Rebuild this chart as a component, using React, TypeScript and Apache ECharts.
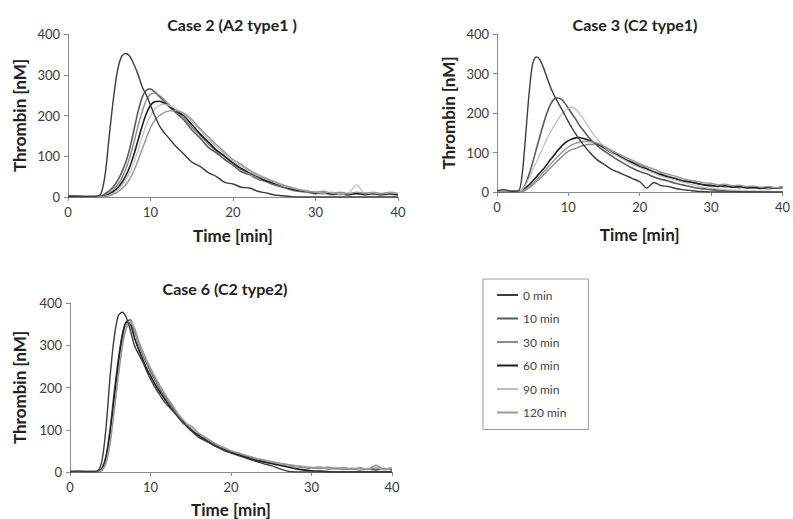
import React, { useEffect, useRef } from "react";
import * as echarts from "echarts";

// time axis (min)
const TIME = [0, 1, 2, 3, 3.5, 4, 4.5, 5, 5.5, 6, 6.5, 7, 7.5, 8, 8.5, 9, 9.5, 10, 10.5, 11, 11.5, 12, 13, 14, 15, 16, 17, 18, 19, 20, 21, 22, 23, 24, 25, 26, 27, 28, 29, 30, 31, 32, 33, 34, 35, 36, 37, 38, 39, 40];

const SERIES_NAMES = ["0 min", "10 min", "30 min", "60 min", "90 min", "120 min"];
const X_TICKS = [0, 10, 20, 30, 40];
const Y_TICKS = [0, 100, 200, 300, 400];
const TITLES = ["Case 2 (A2 type1 )", "Case 3 (C2 type1)", "Case 6 (C2 type2)"];

// Case 2 (A2 type1)
const CASE2_0 = [2, 2, 1, 1, 2, 8, 55, 150, 240, 310, 345, 352, 345, 325, 300, 270, 250, 225, 200, 178, 162, 150, 126, 106, 86, 75, 60, 50, 36, 32, 24, 22, 14, 10, 5, 3, 1, 0, 0, 0, 0, 0, 0, 0, 0, 0, 0, 0, 0, 0];
const CASE2_10 = [2, 2, 1, 1, 1, 2, 8, 15, 25, 40, 60, 85, 120, 165, 210, 245, 262, 265, 258, 248, 238, 228, 208, 190, 165, 145, 122, 108, 92, 78, 62, 55, 44, 38, 30, 24, 18, 14, 12, 8, 10, 6, 8, 5, 10, 6, 8, 5, 7, 5];
const CASE2_30 = [2, 1, 1, 1, 1, 1, 5, 10, 18, 30, 45, 68, 98, 135, 175, 210, 238, 252, 255, 250, 242, 232, 212, 195, 172, 152, 130, 112, 98, 80, 68, 56, 46, 40, 32, 26, 20, 15, 12, 10, 8, 10, 6, 9, 7, 10, 6, 9, 7, 8];
const CASE2_60 = [1, 1, 1, 1, 1, 1, 3, 7, 13, 22, 35, 52, 75, 105, 140, 175, 205, 225, 234, 235, 232, 226, 212, 200, 178, 155, 135, 115, 100, 84, 70, 60, 50, 40, 34, 28, 20, 16, 14, 10, 12, 8, 10, 7, 9, 6, 9, 7, 8, 6];
const CASE2_90 = [1, 1, 1, 0, 0, 0, 2, 5, 10, 17, 28, 42, 60, 85, 115, 148, 178, 200, 215, 224, 228, 226, 218, 205, 185, 165, 142, 124, 105, 88, 76, 62, 52, 44, 36, 28, 22, 18, 14, 12, 10, 12, 8, 10, 30, 8, 10, 8, 10, 8];
const CASE2_120 = [1, 1, 0, 0, 0, 0, 1, 3, 7, 12, 20, 30, 45, 65, 90, 118, 145, 170, 188, 198, 205, 210, 212, 206, 190, 168, 148, 128, 110, 92, 80, 66, 55, 46, 38, 30, 24, 18, 15, 12, 14, 9, 12, 8, 12, 9, 12, 8, 12, 9];

// Case 3 (C2 type1)
const CASE3_0 = [3, 6, 2, 3, 40, 140, 250, 325, 342, 335, 315, 290, 265, 245, 228, 212, 195, 178, 162, 148, 135, 122, 100, 82, 70, 58, 50, 42, 34, 26, 10, 24, 16, 14, 9, 6, 4, 2, 1, 0, 0, 0, 0, 0, 0, 0, 0, 0, 0, 0];
const CASE3_10 = [2, 2, 1, 1, 4, 20, 45, 75, 108, 140, 172, 200, 222, 235, 238, 235, 225, 212, 198, 185, 170, 158, 135, 118, 104, 92, 80, 70, 60, 52, 46, 38, 32, 28, 22, 18, 14, 10, 8, 6, 4, 3, 2, 1, 1, 0, 0, 0, 0, 0];
const CASE3_30 = [1, 1, 1, 1, 1, 5, 11, 18, 26, 34, 43, 52, 61, 70, 79, 88, 96, 103, 108, 110, 114, 117, 121, 120, 114, 104, 94, 84, 76, 68, 60, 52, 46, 40, 34, 29, 25, 21, 18, 14, 16, 12, 14, 10, 12, 9, 11, 8, 10, 9];
const CASE3_60 = [1, 1, 1, 1, 3, 10, 18, 28, 38, 48, 58, 70, 82, 93, 105, 115, 124, 130, 134, 137, 138, 136, 130, 122, 112, 100, 92, 82, 74, 64, 58, 50, 44, 38, 34, 28, 26, 22, 18, 17, 14, 16, 12, 14, 10, 12, 9, 12, 10, 12];
const CASE3_90 = [2, 2, 1, 1, 5, 18, 35, 55, 75, 95, 115, 135, 152, 168, 182, 195, 205, 212, 215, 210, 200, 188, 160, 135, 115, 100, 90, 80, 70, 62, 55, 48, 40, 35, 30, 25, 20, 16, 12, 10, 8, 6, 5, 4, 3, 3, 2, 2, 1, 1];
const CASE3_120 = [1, 1, 1, 1, 2, 7, 14, 22, 31, 40, 50, 60, 70, 80, 90, 99, 107, 114, 119, 123, 126, 128, 128, 124, 116, 106, 97, 88, 80, 72, 64, 58, 50, 45, 40, 34, 30, 27, 23, 22, 18, 20, 16, 17, 14, 15, 12, 14, 11, 14];

// Case 6 (C2 type2)
const CASE6_0 = [1, 2, 1, 1, 3, 30, 110, 230, 320, 370, 378, 365, 335, 300, 280, 262, 240, 220, 202, 187, 172, 160, 140, 118, 98, 82, 72, 62, 52, 45, 38, 32, 26, 20, 15, 8, 2, 0, 0, 0, 0, 0, 0, 0, 0, 0, 0, 0, 0, 0];
const CASE6_10 = [1, 1, 1, 1, 1, 10, 40, 105, 190, 265, 325, 355, 360, 335, 305, 280, 258, 238, 220, 202, 187, 173, 146, 123, 103, 89, 77, 65, 57, 49, 43, 37, 31, 27, 23, 19, 16, 13, 11, 9, 12, 7, 9, 6, 8, 5, 7, 5, 8, 5];
const CASE6_30 = [1, 1, 1, 1, 1, 6, 30, 85, 165, 245, 310, 348, 355, 338, 305, 282, 262, 242, 224, 206, 190, 175, 148, 125, 105, 90, 78, 66, 58, 50, 44, 38, 32, 28, 24, 20, 16, 14, 12, 10, 8, 11, 7, 10, 6, 9, 6, 10, 5, 8];
const CASE6_60 = [1, 1, 1, 1, 1, 8, 35, 95, 178, 258, 322, 355, 350, 318, 292, 268, 246, 228, 210, 194, 180, 166, 140, 118, 100, 86, 74, 62, 54, 46, 40, 34, 28, 24, 20, 16, 12, 8, 5, 3, 2, 1, 0, 0, 0, 0, 0, 0, 0, 0];
const CASE6_90 = [1, 1, 1, 1, 1, 5, 25, 75, 150, 230, 300, 345, 358, 342, 310, 285, 264, 245, 226, 208, 192, 178, 150, 126, 106, 91, 79, 68, 59, 51, 45, 39, 33, 28, 24, 20, 17, 14, 12, 10, 12, 8, 11, 7, 10, 6, 9, 12, 6, 9];
const CASE6_120 = [1, 1, 1, 1, 1, 4, 22, 70, 145, 225, 295, 340, 352, 340, 312, 288, 266, 246, 228, 210, 194, 178, 150, 115, 110, 92, 80, 68, 58, 50, 44, 38, 33, 29, 25, 21, 18, 15, 13, 11, 9, 12, 8, 10, 7, 10, 6, 16, 7, 10];

const PANELS = [
  [CASE2_0, CASE2_10, CASE2_30, CASE2_60, CASE2_90, CASE2_120],
  [CASE3_0, CASE3_10, CASE3_30, CASE3_60, CASE3_90, CASE3_120],
  [CASE6_0, CASE6_10, CASE6_30, CASE6_60, CASE6_90, CASE6_120],
];

// styles
const LINE_COLORS = ["#3c3c3c", "#5a5a5a", "#8a8a8a", "#1e1e1e", "#bdbdbd", "#969696"];
const LINE_WIDTHS = [1.4, 1.6, 1.4, 1.6, 1.2, 1.4];
const FONT = "Lato";

const GRIDS = [
  { left: 68, top: 34, width: 330, height: 163, yGap: 40, xGap: 30, title: [232, 24] },
  { left: 497, top: 34, width: 290, height: 158, yGap: 40, xGap: 34, title: [635, 24] },
  { left: 70, top: 303, width: 322, height: 169, yGap: 42, xGap: 29, title: [225, 288] },
];

export default function App() {
  const ref = useRef<HTMLDivElement>(null);
  useEffect(() => {
    document.body.style.margin = "0";
    if (!ref.current) return;
    const chart = echarts.init(ref.current, undefined, { renderer: "svg" });

    const axisCommon = {
      axisLine: { show: true, lineStyle: { color: "#8a8a8a", width: 1 } },
      axisTick: { show: true, inside: false, length: 4, lineStyle: { color: "#8a8a8a" } },
      splitLine: { show: false },
      axisLabel: { color: "#3a3a3a", fontSize: 13, fontFamily: FONT, margin: 8 },
      nameLocation: "middle" as const,
      nameTextStyle: { color: "#222", fontSize: 17, fontWeight: "bold" as const, fontFamily: FONT },
    };

    const series: any[] = [];
    PANELS.forEach((panel, k) => {
      panel.forEach((vals, j) => {
        series.push({
          type: "line",
          name: SERIES_NAMES[j],
          xAxisIndex: k,
          yAxisIndex: k,
          data: TIME.map((t, i) => [t, vals[i]]),
          symbol: "none",
          smooth: 0.3,
          lineStyle: { color: LINE_COLORS[j], width: LINE_WIDTHS[j] },
          itemStyle: { color: LINE_COLORS[j] },
          z: j === 0 ? 3 : 2,
        });
      });
    });

    chart.setOption({
      animation: false,
      backgroundColor: "#fff",
      grid: GRIDS.map((g) => ({ left: g.left, top: g.top, width: g.width, height: g.height })),
      xAxis: GRIDS.map((g, k) => ({
        ...axisCommon,
        type: "value",
        gridIndex: k,
        min: X_TICKS[0],
        max: X_TICKS[X_TICKS.length - 1],
        interval: 10,
        name: "Time [min]",
        nameGap: g.xGap,
      })),
      yAxis: GRIDS.map((g, k) => ({
        ...axisCommon,
        type: "value",
        gridIndex: k,
        min: Y_TICKS[0],
        max: Y_TICKS[Y_TICKS.length - 1],
        interval: 100,
        name: "Thrombin [nM]",
        nameGap: g.yGap,
      })),
      legend: {
        orient: "vertical",
        left: 483,
        top: 279,
        data: SERIES_NAMES,
        icon: "rect",
        itemWidth: 21,
        itemHeight: 2,
        itemGap: 9.5,
        padding: [9, 22, 10, 14],
        borderColor: "#999",
        borderWidth: 1,
        textStyle: { fontSize: 12, lineHeight: 14, color: "#444", fontFamily: FONT },
        selectedMode: false,
      },
      graphic: GRIDS.map((g, k) => ({
        type: "text",
        x: g.title[0],
        y: g.title[1],
        style: {
          text: TITLES[k],
          fontSize: 16,
          fontWeight: "bold",
          fontFamily: FONT,
          fill: "#222",
          align: "center",
          verticalAlign: "middle",
        },
      })),
      series,
    });

    return () => chart.dispose();
  }, []);

  return <div ref={ref} style={{ width: 793, height: 519 }} />;
}
